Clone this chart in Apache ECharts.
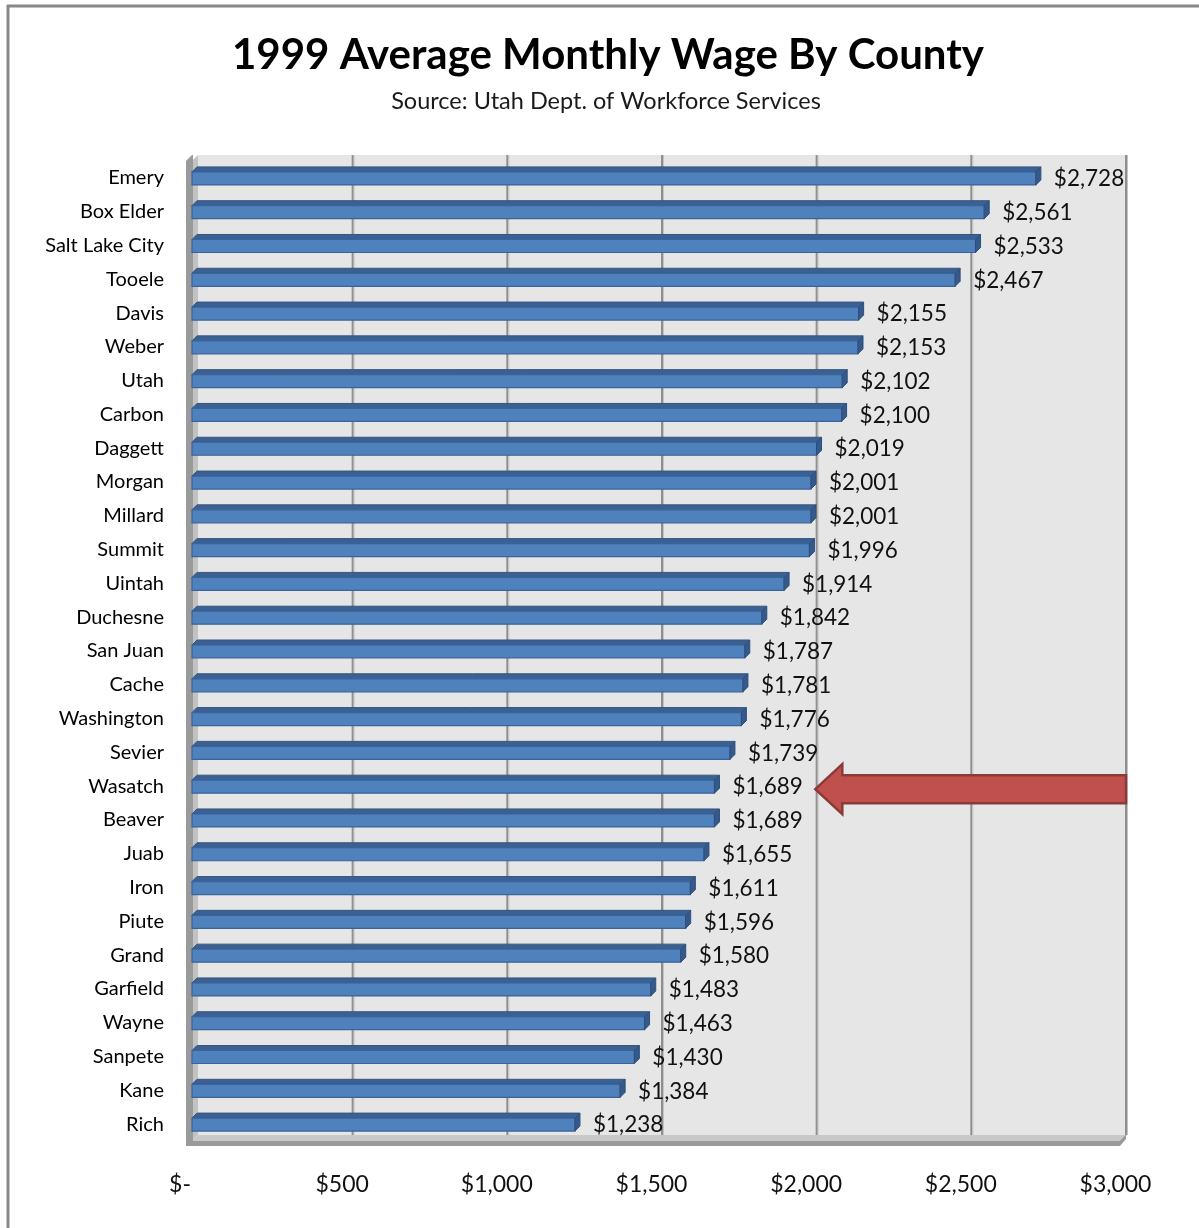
<!DOCTYPE html>
<html>
<head>
<meta charset="utf-8">
<script src="https://cdn.jsdelivr.net/npm/echarts@6/dist/echarts.min.js"></script>
<style>
  html, body { margin: 0; padding: 0; background: #ffffff; }
  #chart { width: 1199px; height: 1228px; }
</style>
</head>
<body>
<div id="chart"></div>
<script>
// County names, top to bottom
const counties = [
  'Emery', 'Box Elder', 'Salt Lake City', 'Tooele', 'Davis', 'Weber', 'Utah',
  'Carbon', 'Daggett', 'Morgan', 'Millard', 'Summit', 'Uintah', 'Duchesne',
  'San Juan', 'Cache', 'Washington', 'Sevier', 'Wasatch', 'Beaver', 'Juab',
  'Iron', 'Piute', 'Grand', 'Garfield', 'Wayne', 'Sanpete', 'Kane', 'Rich'
];
// Average monthly wage, 1999 (dollars)
const wages = [
  2728, 2561, 2533, 2467, 2155, 2153, 2102,
  2100, 2019, 2001, 2001, 1996, 1914, 1842,
  1787, 1781, 1776, 1739, 1689, 1689, 1655,
  1611, 1596, 1580, 1483, 1463, 1430, 1384, 1238
];
// Value axis ticks and their labels
const tickValues = [0, 500, 1000, 1500, 2000, 2500, 3000];
const tickLabels = ['$-', '$500', '$1,000', '$1,500', '$2,000', '$2,500', '$3,000'];
// County singled out by the arrow, and where the arrow tip sits on the value scale
const highlightCounty = 'Wasatch';
const arrowTipValue = 2015;

const FONT = 'Lato, "Liberation Sans", sans-serif';
const DX = 6;   // depth offset of the back wall (x)
const DY = 6;   // depth offset of the back wall (y)
const BAR_DX = 5, BAR_DY = 5;

function money(v) {
  return '$' + v.toLocaleString('en-US');
}

const chart = echarts.init(document.getElementById('chart'), null, { renderer: 'canvas' });

// Back wall, side wall, floor and gridlines of the 3-D plot box
function renderWalls(params, api) {
  const cs = params.coordSys;
  const x0 = api.coord([0, 0])[0];
  const xMax = api.coord([tickValues[tickValues.length - 1], 0])[0];
  const top = cs.y - DY;
  const bottom = cs.y + cs.height - DY;
  const front = cs.y + cs.height;
  const children = [];
  children.push({
    type: 'rect',
    shape: { x: x0 + DX, y: top, width: xMax - x0, height: bottom - top },
    style: { fill: '#e6e6e6' }
  });
  tickValues.slice(1).forEach(v => {
    const gx = api.coord([v, 0])[0] + DX;
    children.push({
      type: 'line',
      shape: { x1: gx, y1: top, x2: gx, y2: bottom },
      style: { stroke: '#8e8e8e', lineWidth: 2 }
    });
    children.push({
      type: 'line',
      shape: { x1: gx + 1.5, y1: top, x2: gx + 1.5, y2: bottom },
      style: { stroke: '#c4c4c4', lineWidth: 1 }
    });
    // floor seam
    children.push({
      type: 'line',
      shape: { x1: gx, y1: bottom, x2: gx - DX, y2: front },
      style: { stroke: '#8e8e8e', lineWidth: 1.5 }
    });
  });
  // floor top surface
  children.push({
    type: 'polygon',
    shape: { points: [[x0, front], [x0 + DX, bottom], [xMax + DX, bottom], [xMax, front]] },
    style: { fill: '#c9c9c9' }
  });
  // floor front slab
  children.push({
    type: 'polygon',
    shape: { points: [[x0 - 6, front], [xMax, front], [xMax + DX, bottom], [xMax + DX, bottom + 4], [xMax, front + 5], [x0 - 6, front + 5]] },
    style: { fill: '#9a9a9a' }
  });
  // side wall surface
  children.push({
    type: 'polygon',
    shape: { points: [[x0, cs.y], [x0 + DX, top], [x0 + DX, bottom], [x0, front]] },
    style: { fill: '#c2c2c2' }
  });
  // side wall slab
  children.push({
    type: 'polygon',
    shape: { points: [[x0 - 6, cs.y], [x0, top], [x0 + 1, top], [x0 + 1, front], [x0 - 6, front + 5]] },
    style: { fill: '#9a9a9a' }
  });
  return { type: 'group', children: children };
}

// Each bar: front face, top face, end cap and its value label
function renderBar(params, api) {
  const v = api.value(0);
  const idx = api.value(1);
  const p0 = api.coord([0, idx]);
  const p1 = api.coord([v, idx]);
  const cy = p0[1];
  const y0 = cy - 6, h = 13;
  const xa = p0[0], xb = p1[0];
  return {
    type: 'group',
    children: [
      {
        type: 'polygon',
        shape: { points: [[xa, y0], [xa + BAR_DX, y0 - BAR_DY], [xb + BAR_DX, y0 - BAR_DY], [xb, y0]] },
        style: { fill: '#3b6092', stroke: '#345683', lineWidth: 1 }
      },
      {
        type: 'rect',
        shape: { x: xa, y: y0, width: xb - xa, height: h },
        style: { fill: '#4f81bd', stroke: '#3a6399', lineWidth: 1.2 }
      },
      {
        type: 'polygon',
        shape: { points: [[xb, y0], [xb + BAR_DX, y0 - BAR_DY], [xb + BAR_DX, y0 + h - BAR_DY], [xb, y0 + h]] },
        style: { fill: '#35598a', stroke: '#2f4f7c', lineWidth: 1 }
      },
      {
        type: 'text',
        style: {
          x: xb + 18, y: cy + 1,
          text: money(v),
          fill: '#111111',
          font: '22.5px ' + FONT,
          textAlign: 'left',
          textVerticalAlign: 'middle'
        }
      }
    ]
  };
}

// Block arrow pointing at the highlighted county's bar
function renderArrow(params, api) {
  const idx = api.value(1);
  const tip = api.coord([api.value(0), idx]);
  const xEnd = api.coord([tickValues[tickValues.length - 1], idx])[0] + DX;
  const cy = tip[1] + 3;
  const tx = tip[0];
  const headLen = 27, headHalf = 25, shaftHalf = 14;
  return {
    type: 'polygon',
    shape: {
      points: [
        [tx, cy], [tx + headLen, cy - headHalf], [tx + headLen, cy - shaftHalf],
        [xEnd, cy - shaftHalf], [xEnd, cy + shaftHalf], [tx + headLen, cy + shaftHalf],
        [tx + headLen, cy + headHalf]
      ]
    },
    style: { fill: '#c0504d', stroke: '#8c3a38', lineWidth: 2.5, lineJoin: 'miter' }
  };
}

const option = {
  backgroundColor: '#ffffff',
  animation: false,
  title: [
    {
      text: '1999 Average Monthly Wage By County',
      left: 603, top: 29, textAlign: 'center',
      textStyle: { fontFamily: FONT, fontWeight: 'bold', fontSize: 42, color: '#000000' }
    },
    {
      text: 'Source: Utah Dept. of Workforce Services',
      left: 601, top: 84, textAlign: 'center',
      textStyle: { fontFamily: FONT, fontWeight: 'normal', fontSize: 23.5, color: '#1a1a1a' }
    }
  ],
  graphic: [
    { type: 'line', shape: { x1: 7, y1: 6, x2: 1199, y2: 6 }, style: { stroke: '#888888', lineWidth: 3 }, z: 10 },
    { type: 'line', shape: { x1: 8, y1: 5, x2: 8, y2: 1228 }, style: { stroke: '#888888', lineWidth: 3 }, z: 10 }
  ],
  grid: { left: 192, right: 79, top: 161, bottom: 87, containLabel: false },
  xAxis: {
    type: 'value',
    min: 0, max: 3000, interval: 500,
    axisLine: { show: false },
    axisTick: { show: false },
    splitLine: { show: false },
    axisLabel: {
      margin: 32,
      fontFamily: FONT, fontSize: 23, color: '#111111',
      padding: [0, 9, 0, 0],
      formatter: v => {
        const lbl = tickLabels[tickValues.indexOf(v)];
        return v === 0 ? '{z|' + lbl + '}' : lbl;
      },
      rich: { z: { fontFamily: FONT, fontSize: 23, color: '#111111', padding: [0, 15, 0, 0] } }
    }
  },
  yAxis: {
    type: 'category',
    inverse: true,
    data: counties,
    axisLine: { show: false },
    axisTick: { show: false },
    splitLine: { show: false },
    axisLabel: { margin: 28, fontFamily: FONT, fontSize: 20, color: '#000000' }
  },
  series: [
    {
      type: 'custom', name: 'walls', z: 1, silent: true,
      renderItem: renderWalls,
      data: [[0, 0]],
      encode: { x: 0, y: 1 }
    },
    {
      type: 'custom', name: 'Average Monthly Wage', z: 2,
      renderItem: renderBar,
      data: wages.map((v, i) => [v, i]),
      encode: { x: 0, y: 1 }
    },
    {
      type: 'custom', name: 'highlight', z: 3, silent: true,
      renderItem: renderArrow,
      data: [[arrowTipValue, counties.indexOf(highlightCounty)]],
      encode: { x: 0, y: 1 }
    }
  ]
};
chart.setOption(option);
</script>
</body>
</html>
